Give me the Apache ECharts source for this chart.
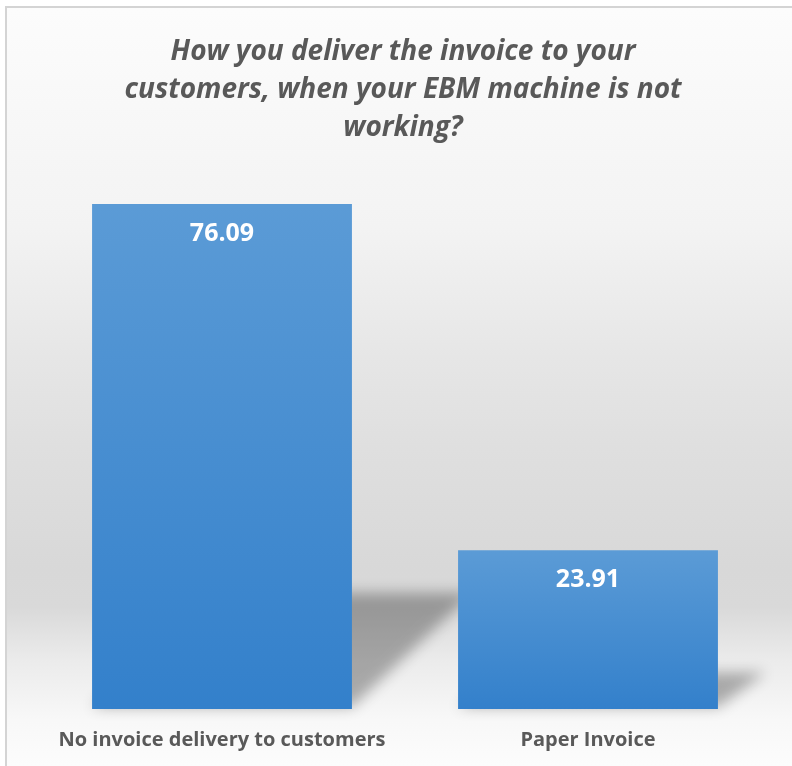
<!DOCTYPE html>
<html>
<head>
<meta charset="utf-8">
<script src="https://cdn.jsdelivr.net/npm/echarts@6/dist/echarts.min.js"></script>
<style>
  html, body { margin: 0; padding: 0; background: #ffffff; overflow: hidden; width: 792px; height: 766px; }
  #frame {
    position: absolute; left: 5px; top: 6px;
    border-top: 2px solid #d4d4d4; border-left: 2px solid #d4d4d4;
    width: 792px; height: 758px;
  }
  #chart { width: 792px; height: 758px; }
</style>
</head>
<body>
<div id="frame"><div id="chart"></div></div>
<script>
// Survey answers (percent of respondents)
const titleText = 'How you deliver the invoice to your\ncustomers, when your EBM machine is not\nworking?';
const categories = ['No invoice delivery to customers', 'Paper Invoice'];
const shares = [76.09, 23.91];

const chart = echarts.init(document.getElementById('chart'));

// Perspective "ground" shadow cast behind each bar.
// The polygon itself sits off-canvas; only its blurred canvas shadow is shifted back into place.
const SHIFT = 3000;
function renderShadow(params, api) {
  const idx = api.value(0);
  const base = api.coord([idx, 0]);
  const top = api.coord([idx, api.value(1)]);
  const half = api.size([1, 0])[0] * 0.71 / 2;
  const sh = (base[1] - top[1]) * 0.23;
  const dx = sh * 0.92 + 14;
  const xl = base[0] - half, xr = base[0] + half;
  return {
    type: 'polygon',
    shape: {
      points: [
        [xl - SHIFT, base[1] - 2], [xr - SHIFT, base[1] - 2],
        [xr + dx - SHIFT, base[1] - sh], [xl + dx - SHIFT, base[1] - sh]
      ]
    },
    style: {
      fill: '#000',
      shadowColor: 'rgba(0,0,0,0.3)',
      shadowBlur: 14,
      shadowOffsetX: SHIFT,
      shadowOffsetY: 0
    }
  };
}

chart.setOption({
  backgroundColor: {
    type: 'linear', x: 0, y: 0, x2: 0, y2: 1,
    colorStops: [
      { offset: 0, color: '#fcfcfc' },
      { offset: 0.29, color: '#f3f3f3' },
      { offset: 0.46, color: '#e6e6e6' },
      { offset: 0.58, color: '#dfdfdf' },
      { offset: 0.74, color: '#d8d8d8' },
      { offset: 0.79, color: '#d9d9d9' },
      { offset: 0.86, color: '#ebebeb' },
      { offset: 0.94, color: '#f8f8f8' },
      { offset: 1, color: '#fcfcfc' }
    ]
  },
  title: {
    text: titleText,
    left: 'center',
    top: 20,
    textStyle: {
      fontFamily: 'Open Sans', fontStyle: 'italic', fontWeight: 'bold',
      fontSize: 28, lineHeight: 38, color: '#595959'
    }
  },
  grid: { left: 32, right: 28, top: 170, bottom: 57 },
  xAxis: {
    type: 'category',
    data: categories,
    axisLine: { show: false },
    axisTick: { show: false },
    axisLabel: {
      interval: 0,
      margin: 21, fontFamily: 'Open Sans', fontWeight: 'bold', fontSize: 20, color: '#595959'
    }
  },
  yAxis: {
    type: 'value', min: 0, max: 80,
    show: false, splitLine: { show: false }
  },
  series: [
    {
      type: 'custom',
      renderItem: renderShadow,
      data: shares.map((v, i) => [i, v]),
      z: 1,
      silent: true
    },
    {
      type: 'bar',
      data: shares,
      barWidth: '71%',
      z: 2,
      itemStyle: {
        color: {
          type: 'linear', x: 0, y: 0, x2: 0, y2: 1,
          colorStops: [
            { offset: 0, color: '#5b9bd6' },
            { offset: 1, color: '#3380cb' }
          ]
        }
      },
      label: {
        show: true, position: 'insideTop', distance: 17,
        fontFamily: 'Open Sans', fontWeight: 'bold', fontSize: 25, color: '#ffffff'
      }
    }
  ]
});
</script>
</body>
</html>
